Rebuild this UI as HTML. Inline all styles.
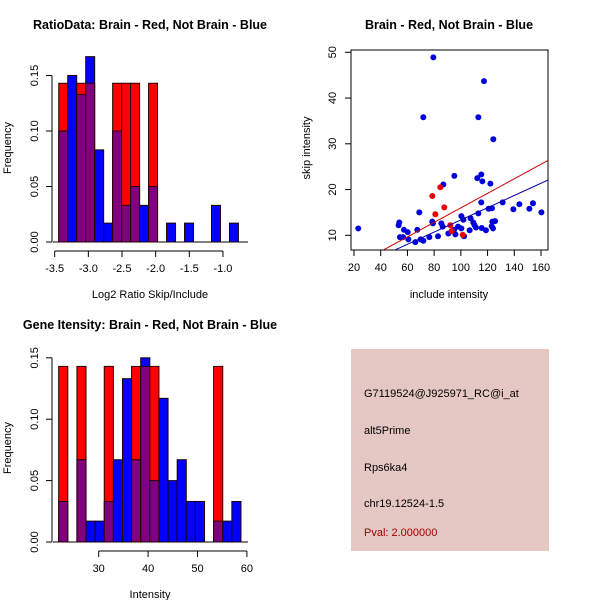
<!DOCTYPE html>
<html><head><meta charset="utf-8"><style>
body{margin:0;background:#fff;}
svg{display:block;font-family:"Liberation Sans",sans-serif;}
.t{font-weight:bold;font-size:12.5px;}
.l{font-size:11px;}
</style></head><body>
<svg id="s" width="600" height="600" viewBox="0 0 600 600">
<rect width="600" height="600" fill="#fff"/>
<text class="t" x="150" y="29" text-anchor="middle">RatioData: Brain - Red, Not Brain - Blue</text>
<text class="t" x="449" y="29" text-anchor="middle">Brain - Red, Not Brain - Blue</text>
<text class="t" x="150" y="329" text-anchor="middle">Gene Itensity: Brain - Red, Not Brain - Blue</text>
<text class="l" x="150" y="298" text-anchor="middle">Log2 Ratio Skip/Include</text>
<text class="l" x="449" y="298" text-anchor="middle">include intensity</text>
<text class="l" x="150" y="598" text-anchor="middle">Intensity</text>
<text class="l" transform="translate(11,148) rotate(-90)" text-anchor="middle">Frequency</text>
<text class="l" transform="translate(310,148) rotate(-90)" text-anchor="middle">skip intensity</text>
<text class="l" transform="translate(11,448) rotate(-90)" text-anchor="middle">Frequency</text>
<g>
<rect x="351" y="349" width="198" height="202" fill="#e5c8c3"/>
<text class="l" x="364" y="397">G7119524@J925971_RC@i_at</text>
<text class="l" x="364" y="434">alt5Prime</text>
<text class="l" x="364" y="471">Rps6ka4</text>
<text class="l" x="364" y="507">chr19.12524-1.5</text>
<text class="l" x="364" y="536" fill="#a00000">Pval: 2.000000</text>
</g>
</svg>
<script>
const ratioRed=[.143,0,.143,.143,0,0,.143,.143,.143,0,.143,0,0,0,0,0,0,0,0,0];
const ratioBlue=[.10,.15,.133,.167,.083,.017,.10,.033,.05,.033,.05,0,.017,0,.017,0,0,.033,0,.017];
const ratioTicks=[-3.5,-3.0,-2.5,-2.0,-1.5,-1.0];
const ratioTickLabels=["-3.5","-3.0","-2.5","-2.0","-1.5","-1.0"];
const intRed=[.143,0,.143,0,0,.143,0,0,.143,.143,.143,0,0,0,0,0,0,.143,0,0];
const intBlue=[.033,0,.067,.017,.017,.033,.067,.133,.067,.15,.05,.117,.05,.067,.033,.033,0,.017,.017,.033];
const intTicks=[30,40,50,60];
const freqTicks=[0,0.05,0.10,0.15];
const freqTickLabels=["0.00","0.05","0.10","0.15"];
const blueX=[23.2,79.4,117.3,71.9,113.1,124.3,95.1,115.3,112.3,116.1,122.1,86.9,68.9,115.3,131.3,143.8,154.0,139.3,151.3,160.3,113.1,120.8,123.3,100.4,101.9,107.3,109.3,110.3,111.3,123.6,125.6,123.1,124.1,115.6,118.8,106.6,97.9,100.4,94.9,90.6,95.9,102.4,85.4,86.4,78.6,79.1,67.4,57.4,60.2,53.4,53.9,54.4,56.7,60.7,65.9,69.9,71.9,76.4,82.9];
const blueY=[11.5,48.9,43.7,35.8,35.8,31.0,23.0,23.3,22.5,21.8,21.3,21.1,15.0,17.2,17.2,16.8,17.0,15.7,15.8,15.0,14.8,15.8,15.9,14.2,13.4,13.7,12.8,12.2,11.7,13.0,13.1,12.0,11.5,11.6,11.1,11.1,11.9,11.5,11.2,10.4,10.2,9.8,12.6,11.9,13.0,12.6,11.2,11.2,10.7,12.2,12.8,9.6,9.6,9.1,8.5,9.1,8.8,9.6,9.8];
const redX=[84.6,78.6,87.6,80.9,92.1,93.1,101.4];
const redY=[20.5,18.6,16.1,14.6,12.2,10.9,10.1];
const redFit=[0.13,0.1587];
const blueFit=[0.04,0.1333];
const scX=[20,40,60,80,100,120,140,160];
const scY=[10,20,30,40,50];

const S=document.getElementById('s');
const NS='http://www.w3.org/2000/svg';
function mk(tag,at,name){const e=document.createElementNS(NS,tag);for(const k in at)e.setAttribute(k,at[k]);


S.appendChild(e);return e;}

function hist(red,blue,x0,binw,xs,ys,ticks,tlabels,axisY,pref){
  const base=ys(0);
  mk('line',{x1:53,x2:248,y1:base,y2:base,stroke:'#000'},pref+'-baseline');
  red.forEach((r,i)=>{
    const b=blue[i];const xa=xs(x0+i*binw),xb=xs(x0+(i+1)*binw);
    const hi=Math.max(r,b),lo=Math.min(r,b);
    if(hi>0){mk('rect',{x:xa,y:ys(hi),width:xb-xa,height:base-ys(hi),fill:r>=b?'#ff0000':'#0000ff',stroke:'#200',"stroke-width":1},pref+'-bar-'+i);}
    if(lo>0){mk('rect',{x:xa,y:ys(lo),width:xb-xa,height:base-ys(lo),fill:'#800080',stroke:'#200',"stroke-width":1},pref+'-overlap-'+i);}
  });
  mk('line',{x1:52,x2:52,y1:ys(0),y2:ys(0.15),stroke:'#000'},pref+'-y-axis');
  freqTicks.forEach((v,i)=>{mk('line',{x1:46,x2:52,y1:ys(v),y2:ys(v),stroke:'#000'},pref+'-y-tick');
    const t=mk('text',{transform:`translate(38,${ys(v)}) rotate(-90)`,"text-anchor":"middle","font-size":"11px"},pref+'-y-label');t.textContent=freqTickLabels[i];});
  mk('line',{x1:xs(ticks[0]),x2:xs(ticks[ticks.length-1]),y1:axisY,y2:axisY,stroke:'#000'},pref+'-x-axis');
  ticks.forEach((v,i)=>{mk('line',{x1:xs(v),x2:xs(v),y1:axisY,y2:axisY+6,stroke:'#000'},pref+'-x-tick');
    const t=mk('text',{x:xs(v),y:axisY+21,"text-anchor":"middle","font-size":"11px"},pref+'-x-label');t.textContent=tlabels[i];});
}
hist(ratioRed,ratioBlue,-3.44,0.1335,v=>54.7+(v+3.5)*67.3,v=>242-v*1110,ratioTicks,ratioTickLabels,251,'ratio');
hist(intRed,intBlue,21.9,1.845,v=>98.7+(v-30)*4.94,v=>542-v*1228,intTicks,intTicks.map(String),551,'intensity');

const sx=v=>354+(v-20)*1.3357, sy=v=>235.3-(v-10)*4.575;
const cp=mk('clipPath',{id:'cp'},'scatter-clip');
const cr=document.createElementNS(NS,'rect');cr.setAttribute('x',351);cr.setAttribute('y',50);cr.setAttribute('width',197);cr.setAttribute('height',200);cp.appendChild(cr);
mk('rect',{x:351,y:50,width:197,height:200,fill:'none',stroke:'#000'},'scatter-frame');
blueX.forEach((v,i)=>mk('circle',{cx:sx(v),cy:sy(blueY[i]),r:3,fill:'#0000dd'},'blue-point'));
redX.forEach((v,i)=>mk('circle',{cx:sx(v),cy:sy(redY[i]),r:3,fill:'#ee0000'},'red-point'));
[[redFit,'#cc0000','red-fit-line'],[blueFit,'#0000aa','blue-fit-line']].forEach(([f,c,n])=>{
  mk('line',{x1:sx(0),y1:sy(f[0]),x2:sx(170),y2:sy(f[0]+f[1]*170),stroke:c,"clip-path":"url(#cp)"},n);});
scX.forEach(v=>{mk('line',{x1:sx(v),x2:sx(v),y1:250,y2:256,stroke:'#000'},'scatter-x-tick');
  const t=mk('text',{x:sx(v),y:271,"text-anchor":"middle","font-size":"11px"},'scatter-x-label');t.textContent=v;});
scY.forEach(v=>{mk('line',{x1:345,x2:351,y1:sy(v),y2:sy(v),stroke:'#000'},'scatter-y-tick');
  const t=mk('text',{transform:`translate(336,${sy(v)}) rotate(-90)`,"text-anchor":"middle","font-size":"11px"},'scatter-y-label');t.textContent=v;});
</script>
</body></html>
